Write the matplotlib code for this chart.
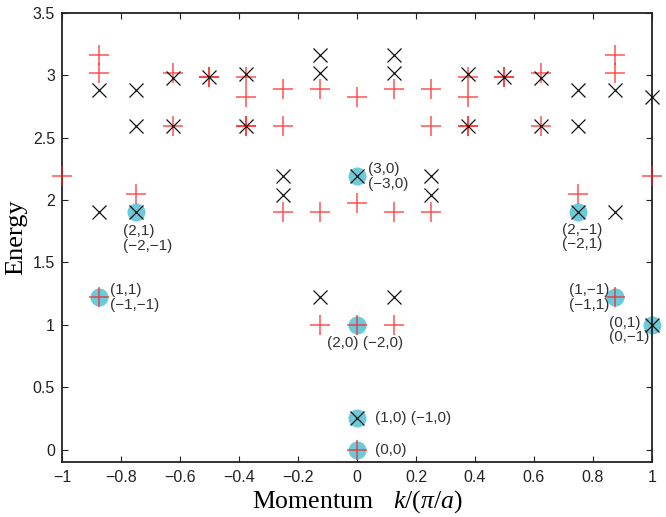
import numpy as np
import matplotlib
matplotlib.use("Agg")
import matplotlib.pyplot as plt

plt.rcParams['font.family'] = ['Liberation Sans', 'DejaVu Sans']
plt.rcParams['mathtext.fontset'] = 'custom'
plt.rcParams['mathtext.rm'] = 'Liberation Serif'
plt.rcParams['mathtext.it'] = 'Liberation Serif:italic'

# red "+" levels (k in units of pi/a, energy)
red_k = [-1, -0.875, -0.875, -0.875, -0.75, -0.625, -0.625, -0.5, -0.5,
         -0.375, -0.375, -0.375, -0.375, -0.25, -0.25, -0.25, -0.125, -0.125, -0.125,
         0, 0, 0, 0,
         0.125, 0.125, 0.125, 0.25, 0.25, 0.25, 0.375, 0.375, 0.375, 0.375,
         0.5, 0.5, 0.625, 0.625, 0.75, 0.875, 0.875, 0.875, 1]
red_E = [2.19, 3.16, 3.02, 1.22, 2.045, 3.02, 2.595, 2.985, 2.985,
         2.985, 2.825, 2.595, 2.595, 2.89, 2.595, 1.905, 2.89, 1.905, 1.0,
         2.825, 1.98, 1.0, 0.0,
         2.89, 1.905, 1.0, 2.89, 2.595, 1.905, 2.985, 2.825, 2.595, 2.595,
         2.985, 2.985, 3.02, 2.595, 2.045, 3.16, 3.02, 1.22, 2.19]

# black "x" levels
blk_k = [-0.875, -0.875, -0.75, -0.75, -0.75, -0.625, -0.625, -0.5,
         -0.375, -0.375, -0.25, -0.25, -0.125, -0.125, -0.125, 0, 0,
         0.125, 0.125, 0.125, 0.25, 0.25, 0.375, 0.375, 0.5, 0.625, 0.625,
         0.75, 0.75, 0.75, 0.875, 0.875, 1, 1]
blk_E = [2.885, 1.905, 2.885, 2.595, 1.905, 2.98, 2.595, 2.985,
         3.01, 2.595, 2.19, 2.04, 3.16, 3.02, 1.22, 2.19, 0.25,
         3.16, 3.02, 1.22, 2.19, 2.04, 3.01, 2.595, 2.985, 2.98, 2.595,
         2.885, 2.595, 1.905, 2.885, 1.905, 2.825, 1.0]

# highlighted states
hl_k = [-0.875, -0.75, 0, 0, 0, 0, 0.75, 0.875, 1]
hl_E = [1.22, 1.905, 2.19, 1.0, 0.25, 0.0, 1.905, 1.22, 1.0]

# state labels: text, x, y, ha
lab_text = ["(3,0)\n(\u22123,0)", "(2,1)\n(\u22122,\u22121)", "(1,1)\n(\u22121,\u22121)",
            "(2,0) (\u22122,0)", "(2,\u22121)\n(\u22122,1)", "(1,\u22121)\n(\u22121,1)",
            "(0,1)\n(0,\u22121)", "(1,0) (\u22121,0)", "(0,0)"]
lab_x = [0.037, -0.792, -0.8375, 0.028, 0.694, 0.719, 0.855, 0.061, 0.061]
lab_y = [2.19, 1.69, 1.22, 0.855, 1.705, 1.22, 0.96, 0.25, 0.0]
lab_ha = ["left", "left", "left", "center", "left", "left", "left", "left", "left"]

fig = plt.figure(figsize=(6.66, 5.17), dpi=100)
ax = fig.add_axes([0.093, 0.1064, 0.886, 0.8685])

ax.plot(hl_k, hl_E, 'o', ms=13, color='#6ccbdb', mec='none', clip_on=False, zorder=2)
ax.plot(red_k, red_E, '+', ms=14, mew=1.1, color='#ff1a1a', alpha=0.75, clip_on=False, zorder=3)
ax.plot(blk_k, blk_E, 'x', ms=9.5, mew=0.9, color='#111111', clip_on=False, zorder=4)

for t, x, y, ha in zip(lab_text, lab_x, lab_y, lab_ha):
    ax.text(x, y, t, ha=ha, va='center', fontsize=11, color='#333333', linespacing=1.05)

ax.set_xlim(-1, 1)
ax.set_ylim(-0.1, 3.5)
ax.set_xticks(np.arange(-1, 1.01, 0.2))
ax.set_xticklabels(['\u22121', '\u22120.8', '\u22120.6', '\u22120.4', '\u22120.2', '0',
                    '0.2', '0.4', '0.6', '0.8', '1'])
ax.set_yticks(np.arange(0, 3.51, 0.5))
ax.set_yticklabels(['0', '0.5', '1', '1.5', '2', '2.5', '3', '3.5'])
ax.tick_params(axis='x', pad=6)
ax.tick_params(direction='in', length=4, width=0.8, labelsize=11.5, top=True, right=True,
               colors='#222222')
ax.tick_params(axis='y', pad=5)
for s in ax.spines.values():
    s.set_linewidth(1.3)
    s.set_color('#222222')

ax.set_xlabel(r"Momentum  $\;\,k/(\pi/a)$", fontsize=18.5, family='Liberation Serif', labelpad=2)
ax.set_ylabel("Energy", fontsize=19, family='Liberation Serif', labelpad=4)

plt.savefig("out.png", dpi=100)
